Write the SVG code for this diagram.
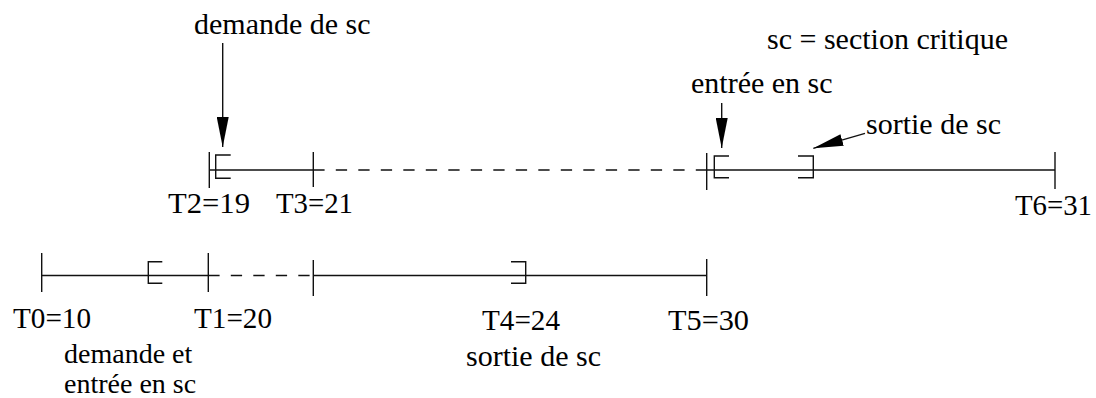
<svg xmlns="http://www.w3.org/2000/svg" width="1096" height="398" viewBox="0 0 1096 398">
<style>
.ln{stroke:#111;stroke-width:1.4;fill:none}
.ds{stroke:#111;stroke-width:1.4;fill:none;stroke-dasharray:11.3 11.2}
.t{font-family:"Liberation Serif","Times New Roman",serif;font-size:30px;fill:#000}
.s{font-size:28px}
</style>
<defs>
<marker id="ah" markerUnits="userSpaceOnUse" markerWidth="30" markerHeight="12" refX="30" refY="6" orient="auto">
<path d="M0,0 L30,6 L0,12 z" fill="#000"/>
</marker>
</defs>
<rect width="1096" height="398" fill="#fff"/>
<g id="process-top">
<line class="ln" x1="209.3" y1="170" x2="313.3" y2="170"/>
<line class="ds" x1="313.3" y1="170" x2="706.7" y2="170"/>
<line class="ln" x1="706.7" y1="170" x2="1055" y2="170"/>
<line class="ln" x1="209.3" y1="152" x2="209.3" y2="188"/>
<line class="ln" x1="313.3" y1="152" x2="313.3" y2="187"/>
<line class="ln" x1="706.7" y1="153" x2="706.7" y2="190"/>
<line class="ln" x1="1055" y1="152" x2="1055" y2="189"/>
<path class="ln" d="M230.7,155 H215.7 V178.3 H230.7"/>
<path class="ln" d="M729,156 H714.3 V177.7 H729"/>
<path class="ln" d="M798,156 H813.3 V177.7 H798"/>
</g>
<g id="process-bottom">
<line class="ln" x1="41.7" y1="275.5" x2="208.3" y2="275.5"/>
<line class="ds" x1="208.3" y1="275.5" x2="313.3" y2="275.5"/>
<line class="ln" x1="313.3" y1="275.5" x2="706.7" y2="275.5"/>
<line class="ln" x1="41.7" y1="253" x2="41.7" y2="292"/>
<line class="ln" x1="208.3" y1="253" x2="208.3" y2="292"/>
<line class="ln" x1="313.3" y1="260" x2="313.3" y2="296"/>
<line class="ln" x1="706.7" y1="259" x2="706.7" y2="296"/>
<path class="ln" d="M162.3,261.7 H148.3 V283.3 H162.3"/>
<path class="ln" d="M511,261.7 H525.7 V283.3 H511"/>
</g>
<g id="labels-top">
<text class="t" x="168" y="213" textLength="82" lengthAdjust="spacingAndGlyphs">T2=19</text>
<text class="t" x="276" y="213" textLength="77" lengthAdjust="spacingAndGlyphs">T3=21</text>
<text class="t" x="1015" y="215" textLength="77" lengthAdjust="spacingAndGlyphs">T6=31</text>
</g>
<g id="labels-bottom">
<text class="t" x="13" y="328" textLength="78" lengthAdjust="spacingAndGlyphs">T0=10</text>
<text class="t" x="194" y="328" textLength="78" lengthAdjust="spacingAndGlyphs">T1=20</text>
<text class="t" x="482" y="330" textLength="78" lengthAdjust="spacingAndGlyphs">T4=24</text>
<text class="t" x="668" y="330" textLength="81" lengthAdjust="spacingAndGlyphs">T5=30</text>
</g>
<g id="annotations">
<text class="t" x="194" y="34">demande de sc</text>
<text class="t" x="767" y="49">sc = section critique</text>
<text class="t" x="691" y="93">entrée en sc</text>
<text class="t" x="866" y="134">sortie de sc</text>
<text class="t s" x="64" y="363">demande et</text>
<text class="t s" x="64" y="393">entrée en sc</text>
<text class="t" x="466" y="366">sortie de sc</text>
</g>
<g id="connectors">
<line class="ln" x1="222.7" y1="43" x2="222.7" y2="147" marker-end="url(#ah)"/>
<line class="ln" x1="721.7" y1="103" x2="721.7" y2="148" marker-end="url(#ah)"/>
<line class="ln" x1="865" y1="133.3" x2="813.3" y2="148.3" marker-end="url(#ah)"/>
</g>
</svg>
